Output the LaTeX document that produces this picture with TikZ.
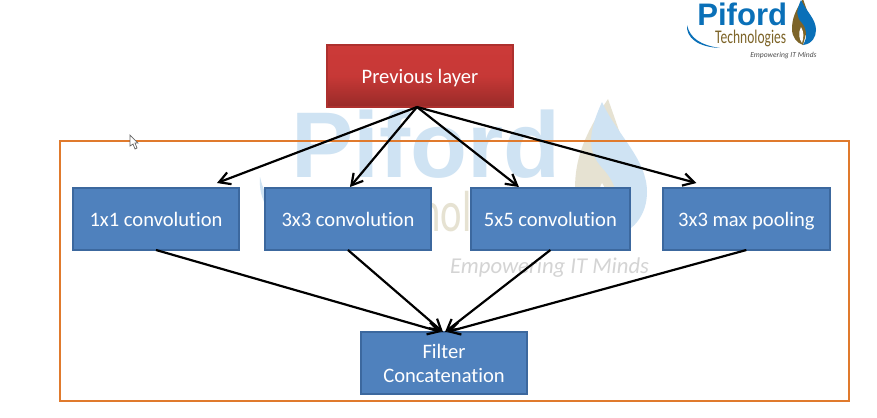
\documentclass[tikz,border=0pt]{standalone}
\usepackage{fontspec}
\setmainfont[Ligatures=NoCommon]{Carlito}
\newfontfamily\logofont{Liberation Sans}
\usetikzlibrary{arrows.meta, positioning}
\definecolor{boxblue}{RGB}{79, 129, 189}
\definecolor{boxedge}{RGB}{60, 104, 158}
\definecolor{layerred}{RGB}{204, 58, 56}
\definecolor{layerdark}{RGB}{152, 42, 40}
\definecolor{frameorange}{RGB}{224, 122, 45}
\definecolor{logoblue}{RGB}{10, 112, 184}
\definecolor{logogold}{RGB}{125, 100, 40}
\definecolor{paleblue}{RGB}{207, 227, 243}
\definecolor{palegold}{RGB}{230, 226, 210}
\tikzset{
  convbox/.style={draw=boxedge, fill=boxblue, line width=0.8pt, text=white, outer sep=0pt,
    minimum width=3.32cm, minimum height=1.24cm, align=center, font=\fontsize{11.7}{13.7}\selectfont},
  onebox/.style={convbox, execute at begin node={\rule[-0.35em]{0pt}{1.45em}}},
  layerbox/.style={onebox, draw=layerdark!60!layerred, top color=layerred, bottom color=layerdark, middle color=layerred!90!layerdark},
  flow/.style={-{Straight Barb[length=2.2mm, width=2.5mm]}, black, line width=1.25pt},
}
% #1 letters, #2 second colour, #3 tagline
\newcommand{\pifordlogo}[3]{
  \fill[#1] (687,25) .. controls (686,38) and (698,47) .. (720,48) .. controls (700,45) and (690,38) .. (687,25) -- cycle;
  \fill[#2] (803,-1) .. controls (795,11) and (792,19) .. (792,29) .. controls (792,37) and (797,43) .. (803,45) -- (810,19) -- cycle;
  \fill[#1] (801,0) .. controls (796,11) and (796,17) .. (802,23) .. controls (807,29) and (808,37) .. (803,45)
    .. controls (812,44) and (816,37) .. (816,30) .. controls (816,19) and (806,11) .. (801,0) -- cycle;
  \fill[white] (801,27) .. controls (798,33) and (799,39) .. (802,43) .. controls (804,37) and (804,32) .. (801,27) -- cycle;
  \node[anchor=base west, inner sep=0pt, text=#1, font=\logofont\bfseries\fontsize{17.7}{18}\selectfont] (name) at (697,25) {Piford};
  \node[anchor=base west, inner sep=0pt, text=#2, xscale=0.7, font=\fontsize{11}{12}\selectfont] (tech) at (715,43) {Technologies};
  \node[anchor=base west, inner sep=0pt, text=#3, font=\itshape\fontsize{4.3}{5}\selectfont] (tag) at (750,57) {Empowering IT Minds};
}

\begin{document}
\begin{tikzpicture}[x=0.02cm, y=-0.02cm]
  \useasboundingbox (0,0) rectangle (877,417);
  \fill[white] (0,0) rectangle (877,417);

  % faded logo behind the diagram
  \begin{scope}[shift={(-1801,102)}, scale=3, transform shape, name prefix=wm-]
    \pifordlogo{paleblue}{palegold}{black!17}
  \end{scope}
  % logo, top right
  \begin{scope}[name prefix=top-]
    \pifordlogo{logoblue}{logogold}{black!70}
  \end{scope}

  \draw[frameorange, line width=1.15pt] (60,141) rectangle (849,401);

  \node[layerbox, minimum width=3.72cm] (prev) at (420,76) {Previous layer};
  \node[onebox] (conv1) at (156,219) {1x1 convolution};
  \node[onebox, right=0.52cm of conv1] (conv3) {3x3 convolution};
  \node[onebox, right=0.8cm of conv3, minimum width=3.18cm] (conv5) {5x5 convolution};
  \node[onebox, right=0.66cm of conv5, minimum width=3.34cm] (pool) {3x3 max pooling};
  \node[convbox] (concat) at (444,363) {Filter\\Concatenation};

  \draw[flow] ([xshift=-0.06cm]prev.south) -- ([xshift=1.22cm, yshift=0.1cm]conv1.north);
  \draw[flow] ([xshift=-0.06cm]prev.south) -- ([xshift=0.04cm, yshift=0.02cm]conv3.north);
  \draw[flow] ([xshift=-0.06cm]prev.south) -- ([xshift=-0.63cm, yshift=0.02cm]conv5.north);
  \draw[flow] ([xshift=-0.06cm]prev.south) -- ([xshift=-1cm, yshift=0.1cm]pool.north);

  \draw[flow] (conv1.south) -- ([xshift=-0.06cm]concat.north);
  \draw[flow] (conv3.south) -- ([xshift=-0.02cm]concat.north);
  \draw[flow] (conv5.south) -- ([xshift=0.02cm]concat.north);
  \draw[flow] (pool.south) -- ([xshift=0.06cm]concat.north);

  % mouse pointer
  \draw[black!60, fill=white, line width=0.4pt] (130,135) -- (130,146) -- (133,144) -- (135,149) -- (137,148) -- (135,143) -- (138,143) -- cycle;
\end{tikzpicture}
\end{document}
